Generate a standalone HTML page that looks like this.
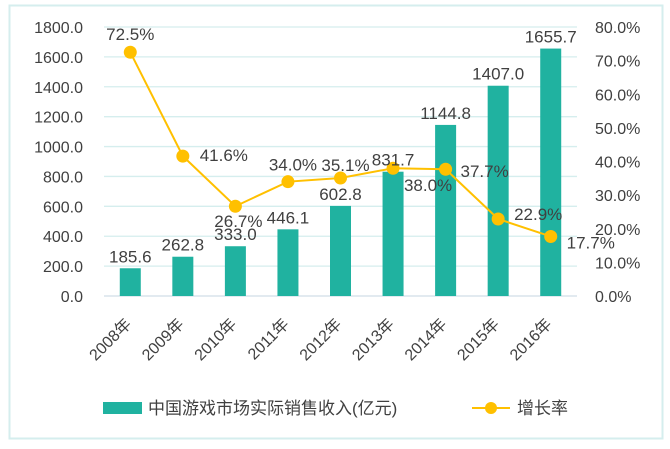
<!DOCTYPE html>
<html><head><meta charset="utf-8"><style>
body{margin:0;background:#fff}
svg text{font-family:"Liberation Sans","Noto Sans CJK SC",sans-serif;fill:#404040}
</style></head><body>
<svg id="c" width="670" height="444">
<rect x="9.5" y="5.5" width="653" height="433" fill="#fff" stroke="#d5eeee" stroke-width="2"/>
<g id="grid"></g><g id="bars"></g><g id="line"></g><g id="labels"></g>
<g>
<rect x="103" y="402" width="39" height="12" fill="#20b2a0"/>
<text x="148" y="414" font-size="17">中国游戏市场实际销售收入(亿元)</text>
<line x1="472" y1="408" x2="510" y2="408" stroke="#ffc000" stroke-width="2"/>
<circle cx="491" cy="408" r="6" fill="#ffc000"/>
<text x="517" y="414" font-size="17">增长率</text>
</g>
</svg>
<script>
const categories=["2008年","2009年","2010年","2011年","2012年","2013年","2014年","2015年","2016年"];
const revenue=[185.6,262.8,333.0,446.1,602.8,831.7,1144.8,1407.0,1655.7];
const growth=[72.5,41.6,26.7,34.0,35.1,38.0,37.7,22.9,17.7];
const leftTicks=[0,200,400,600,800,1000,1200,1400,1600,1800];
const rightTicks=[0,10,20,30,40,50,60,70,80];
const NS="http://www.w3.org/2000/svg";
const x0=104,x1=577,yb=296,yt=27;
const bw=(x1-x0)/categories.length;
const yL=v=>yb-(v/1800)*(yb-yt);
const yR=v=>yb-(v/80)*(yb-yt);
const xc=i=>x0+bw*(i+0.5);
function mk(p,tag,a){const e=document.createElementNS(NS,tag);for(const k in a)e.setAttribute(k,a[k]);p.appendChild(e);return e;}
const grid=document.getElementById('grid'),bars=document.getElementById('bars'),line=document.getElementById('line'),labels=document.getElementById('labels');
leftTicks.forEach((v,k)=>{
 const g=mk(grid,'line',{x1:x0,x2:x1,y1:yL(v),y2:yL(v),stroke:k==0?'#d0dde8':'#d5eeee','stroke-width':1.3});
 
 
 const t=mk(grid,'text',{x:83,y:yL(v)+6,'text-anchor':'end','font-size':16});t.textContent=v.toFixed(1);
 
 
});
rightTicks.forEach(v=>{const t=mk(grid,'text',{x:595,y:yR(v)+6,'font-size':16});t.textContent=v.toFixed(1)+'%';
 
 });
categories.forEach((c,i)=>{
 const b=mk(bars,'rect',{x:xc(i)-10.5,y:yL(revenue[i]),width:21,height:yb-yL(revenue[i]),fill:'#20b2a0'});
 
 
 const t=mk(labels,'text',{x:xc(i),y:yL(revenue[i])-6,'text-anchor':'middle','font-size':17});t.textContent=revenue[i].toFixed(1);
 
 
 const xl=mk(labels,'text',{x:0,y:0,'text-anchor':'end','font-size':16,transform:`translate(${xc(i)+2},${yb+29}) rotate(-45)`});xl.textContent=c;
 
 
});
const pts=growth.map((g,i)=>xc(i)+','+yR(g)).join(' ');
const pl=mk(line,'polyline',{points:pts,fill:'none',stroke:'#ffc000','stroke-width':2});


const off=[[0,-12],[41,5],[3,21],[5,-11],[5,-7],[35,23],[39,8],[40,1],[40,12]];
growth.forEach((g,i)=>{
 const c=mk(line,'circle',{cx:xc(i),cy:yR(g),r:6.5,fill:'#ffc000'});
 
 
 const t=mk(labels,'text',{x:xc(i)+off[i][0],y:yR(g)+off[i][1],'text-anchor':'middle','font-size':17});t.textContent=g.toFixed(1)+'%';
 
 
});
</script>
</body></html>
